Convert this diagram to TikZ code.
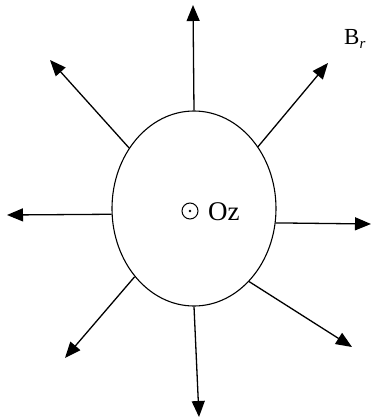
\documentclass[tikz,border=0pt]{standalone}
\usepackage{fontspec}
\setmainfont{Liberation Serif}
\usetikzlibrary{arrows.meta,shapes.geometric}
\begin{document}
\begin{tikzpicture}[x=1pt,y=-1pt,
  ray/.style={line width=1.3pt,-{Triangle[length=16pt,width=13pt]}},
  lbl/.style={inner sep=0pt}]
\useasboundingbox (0,0) rectangle (371,418);
\node[ellipse,draw,line width=1.1pt,minimum width=164pt,minimum height=195pt,inner sep=0pt] (E) at (194,208.5) {};
\coordinate (tT) at (193,5);
\coordinate (tUL) at (50,60);
\coordinate (tUR) at (328,63);
\coordinate (tL) at (7,215);
\coordinate (tR) at (371,224);
\coordinate (tLL) at (65,358);
\coordinate (tB) at (199,417);
\coordinate (tLR) at (352,347);
\draw[ray] (E.90) -- (tT);
\draw[ray] (E.137) -- (tUL);
\draw[ray] (E.44) -- (tUR);
\draw[ray] (E.184.5) -- (tL);
\draw[ray] (E.-10.7) -- (tR);
\draw[ray] (E.229) -- (tLL);
\draw[ray] (E.270) -- (tB);
\draw[ray] (E.307.5) -- (tLR);
\node[circle,draw,line width=1pt,minimum size=16pt,inner sep=0pt] (dot) at (190,211) {};
\fill (dot.center) circle (1.3pt);
\node[lbl,anchor=base west,font=\fontsize{27}{30}\selectfont] (oz) at (208,220) {Oz};
\node[lbl,anchor=base west,font=\fontsize{23}{26}\selectfont] (br) at (344,44) {B\raisebox{-0.2em}{\fontsize{15}{15}\selectfont\itshape r}};
\end{tikzpicture}
\end{document}
